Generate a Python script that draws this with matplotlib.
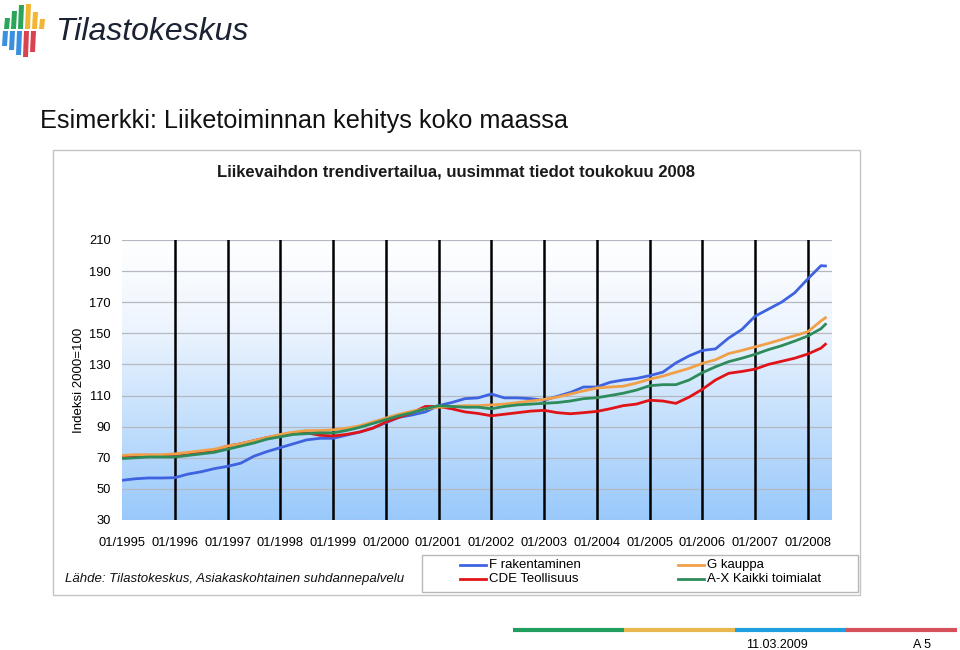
import numpy as np
import matplotlib
matplotlib.use("Agg")
import matplotlib.pyplot as plt
from matplotlib.patches import Rectangle, Polygon
from matplotlib.lines import Line2D

plt.rcParams['font.family'] = ['Liberation Sans', 'DejaVu Sans']

# quarterly readings (Jan/Apr/Jul/Oct) 01/1995 .. 10/2007, 01/2008, 04/2008, 05/2008
f_rakentaminen = [55.5, 56.5, 57, 57, 57.2, 59.5, 61, 63, 64.5, 66.5, 71, 74,
                  76.5, 79, 81.5, 82.5, 82.5, 84.5, 86.5, 89, 92.5, 96, 97.5, 99.5,
                  103.5, 105.5, 108, 108.5, 111, 108.5, 108.5, 108, 107, 109.5, 112, 115.5,
                  115.5, 118.5, 120, 121, 122.8, 125, 131, 135.5, 139, 140, 147, 152.5,
                  161, 165.5, 170, 176, 185, 193.5, 193.3]
g_kauppa = [71.5, 72, 72, 72, 72.5, 73.5, 74.5, 75.5, 77.5, 79, 81, 83,
            85, 86.5, 87.5, 87.5, 88, 89, 90.5, 93, 95.5, 98, 100, 101.5,
            102.5, 103, 103.5, 103.5, 104, 104.5, 105.5, 106.5, 107.5, 109, 111, 113,
            114.8, 115.5, 116, 118, 120.5, 122.5, 125, 127.5, 130.7, 133, 137, 139,
            141.3, 143.5, 146, 148.5, 151, 158, 160]
cde_teollisuus = [70.5, 71, 71, 71, 71, 72, 73.5, 75, 77.5, 79, 81, 83,
                  84.5, 85.5, 86, 84.5, 84, 85, 86.5, 89, 93, 96, 99, 103,
                  103, 101.5, 99.5, 98.5, 97, 98, 99, 100, 100.5, 99, 98.3, 99,
                  99.8, 101.5, 103.5, 104.5, 107, 106.5, 105, 109, 114, 120, 124.3, 125.5,
                  127, 130, 132, 134, 136.7, 140.5, 143]
ax_kaikki = [69.5, 70, 70.5, 70.5, 70.5, 71.5, 72.5, 73.5, 75.5, 77.5, 79.5, 82,
             83.5, 85, 85.5, 86, 86, 87.5, 89.5, 92, 94.5, 97, 99, 101.5,
             103.5, 103, 102.5, 102.5, 101.5, 103, 104, 104.5, 105, 105.5, 106.5, 108,
             108.6, 110, 111.5, 113.5, 116.3, 117, 117, 120, 124.7, 128.5, 131.8, 134,
             136.5, 139.5, 142, 145, 148.3, 153, 155.8]

series_labels = ["F rakentaminen", "CDE Teollisuus", "G kauppa", "A-X Kaikki toimialat"]
series_colors = ["#3f63e0", "#e01418", "#f0a048", "#2e8b5a"]
year_labels = ["01/%d" % y for y in range(1995, 2009)]

months = list(range(0, 160, 3)) + [160]


def px(x, y):
    return x / 960, 1 - y / 650


fig = plt.figure(figsize=(9.6, 6.5), dpi=100)

# logo bars
top_bars = [(4, 18, "#2aa55a"), (11, 11, "#2aa55a"), (18, 5, "#2aa55a"),
            (25, 4, "#f2b632"), (32, 12, "#f2b632"), (39, 19, "#f2b632")]
for x0, y0, c in top_bars:
    fig.add_artist(Polygon([px(x0, 29), px(x0 + 5, 29), px(x0 + 6, y0), px(x0 + 1, y0)],
                           closed=True, transform=fig.transFigure, color=c, lw=0))
bottom_bars = [(2, 46, "#3a8fe0"), (9, 50, "#3a8fe0"), (16, 55, "#3a8fe0"),
               (23, 57, "#d9434f"), (30, 52, "#d9434f")]
for x0, y1, c in bottom_bars:
    fig.add_artist(Polygon([px(x0 + 1, 31), px(x0 + 6, 31), px(x0 + 5, y1), px(x0, y1)],
                           closed=True, transform=fig.transFigure, color=c, lw=0))
fig.text(*px(55, 32), "Tilastokeskus", fontsize=23, color="#1b2233", va="center",
         ha="left", style="italic")

fig.text(*px(40, 121), "Esimerkki: Liiketoiminnan kehitys koko maassa", fontsize=18.2,
         va="center", ha="left", color="#111111")

# chart frame
fig.add_artist(Rectangle(px(53, 595), 807 / 960, 445 / 650, transform=fig.transFigure,
                         fill=False, edgecolor="#c4c4c4", lw=1))
fig.text(*px(456, 172), "Liikevaihdon trendivertailua, uusimmat tiedot toukokuu 2008",
         fontsize=12, fontweight="bold", ha="center", va="center", color="#1a1a1a")

ax = fig.add_axes([122 / 960, 130 / 650, 710 / 960, 280 / 650])
grad = np.linspace(0, 1, 256).reshape(-1, 1)
cmap = matplotlib.colors.LinearSegmentedColormap.from_list(
    "bg", [(0, "#ffffff"), (0.3, "#eef5fe"), (1, "#99c9fb")])
ax.imshow(grad, extent=[0, 161.5, 30, 210], origin="upper", aspect="auto", cmap=cmap,
          zorder=0)

for v in range(30, 211, 20):
    ax.axhline(v, color="#b4b8c0", lw=0.9, zorder=1)
for m in range(12, 160, 12):
    ax.axvline(m, color="black", lw=1.8, zorder=2)

lines = []
for vals, lab, col in zip([f_rakentaminen, cde_teollisuus, g_kauppa, ax_kaikki],
                          series_labels, series_colors):
    ln, = ax.plot(months, vals, color=col, lw=2, label=lab, zorder=3)
    lines.append(ln)

ax.set_xlim(0, 161.5)
ax.set_ylim(30, 210)
ax.set_yticks(range(30, 211, 20))
ax.set_xticks(range(0, 160, 12))
ax.set_xticklabels(year_labels, fontsize=9.3)
ax.tick_params(axis="y", labelsize=9.3, length=0, pad=8)
ax.tick_params(axis="x", length=0, pad=12)
for s in ax.spines.values():
    s.set_visible(False)
ax.set_ylabel("Indeksi 2000=100", fontsize=9.5, labelpad=3)

# legend box drawn by hand: column 1 F, CDE; column 2 G, A-X
fig.add_artist(Rectangle(px(422, 592), 436 / 960, 37 / 650, transform=fig.transFigure,
                         fill=False, edgecolor="#b8b8b8", lw=1))
legend_slots = [(460, 565), (460, 579), (678, 565), (678, 579)]
for ln, (lx, ly) in zip(lines, legend_slots):
    fig.add_artist(Line2D([lx / 960, (lx + 26) / 960], [1 - ly / 650] * 2,
                          color=ln.get_color(), lw=2, transform=fig.transFigure))
    fig.text(*px(lx + 29, ly), ln.get_label(), fontsize=9.5, ha="left", va="center")

fig.text(*px(65, 579), "Lähde: Tilastokeskus, Asiakaskohtainen suhdannepalvelu",
         fontsize=9.5, style="italic", ha="left", va="center", color="#111111")

# footer
stripe = [(513, 624, "#1f9e5e"), (624, 735, "#e8b84e"), (735, 846, "#1f9ee0"),
          (846, 957, "#d6505a")]
for x0, x1, c in stripe:
    fig.add_artist(Line2D([x0 / 960, x1 / 960], [1 - 630 / 650] * 2, color=c, lw=3,
                          transform=fig.transFigure, solid_capstyle="butt"))
fig.text(*px(777, 645), "11.03.2009", fontsize=9, ha="center", va="center")
fig.text(*px(922, 645), "A 5", fontsize=9, ha="center", va="center")

fig.savefig("out.png", dpi=100)
